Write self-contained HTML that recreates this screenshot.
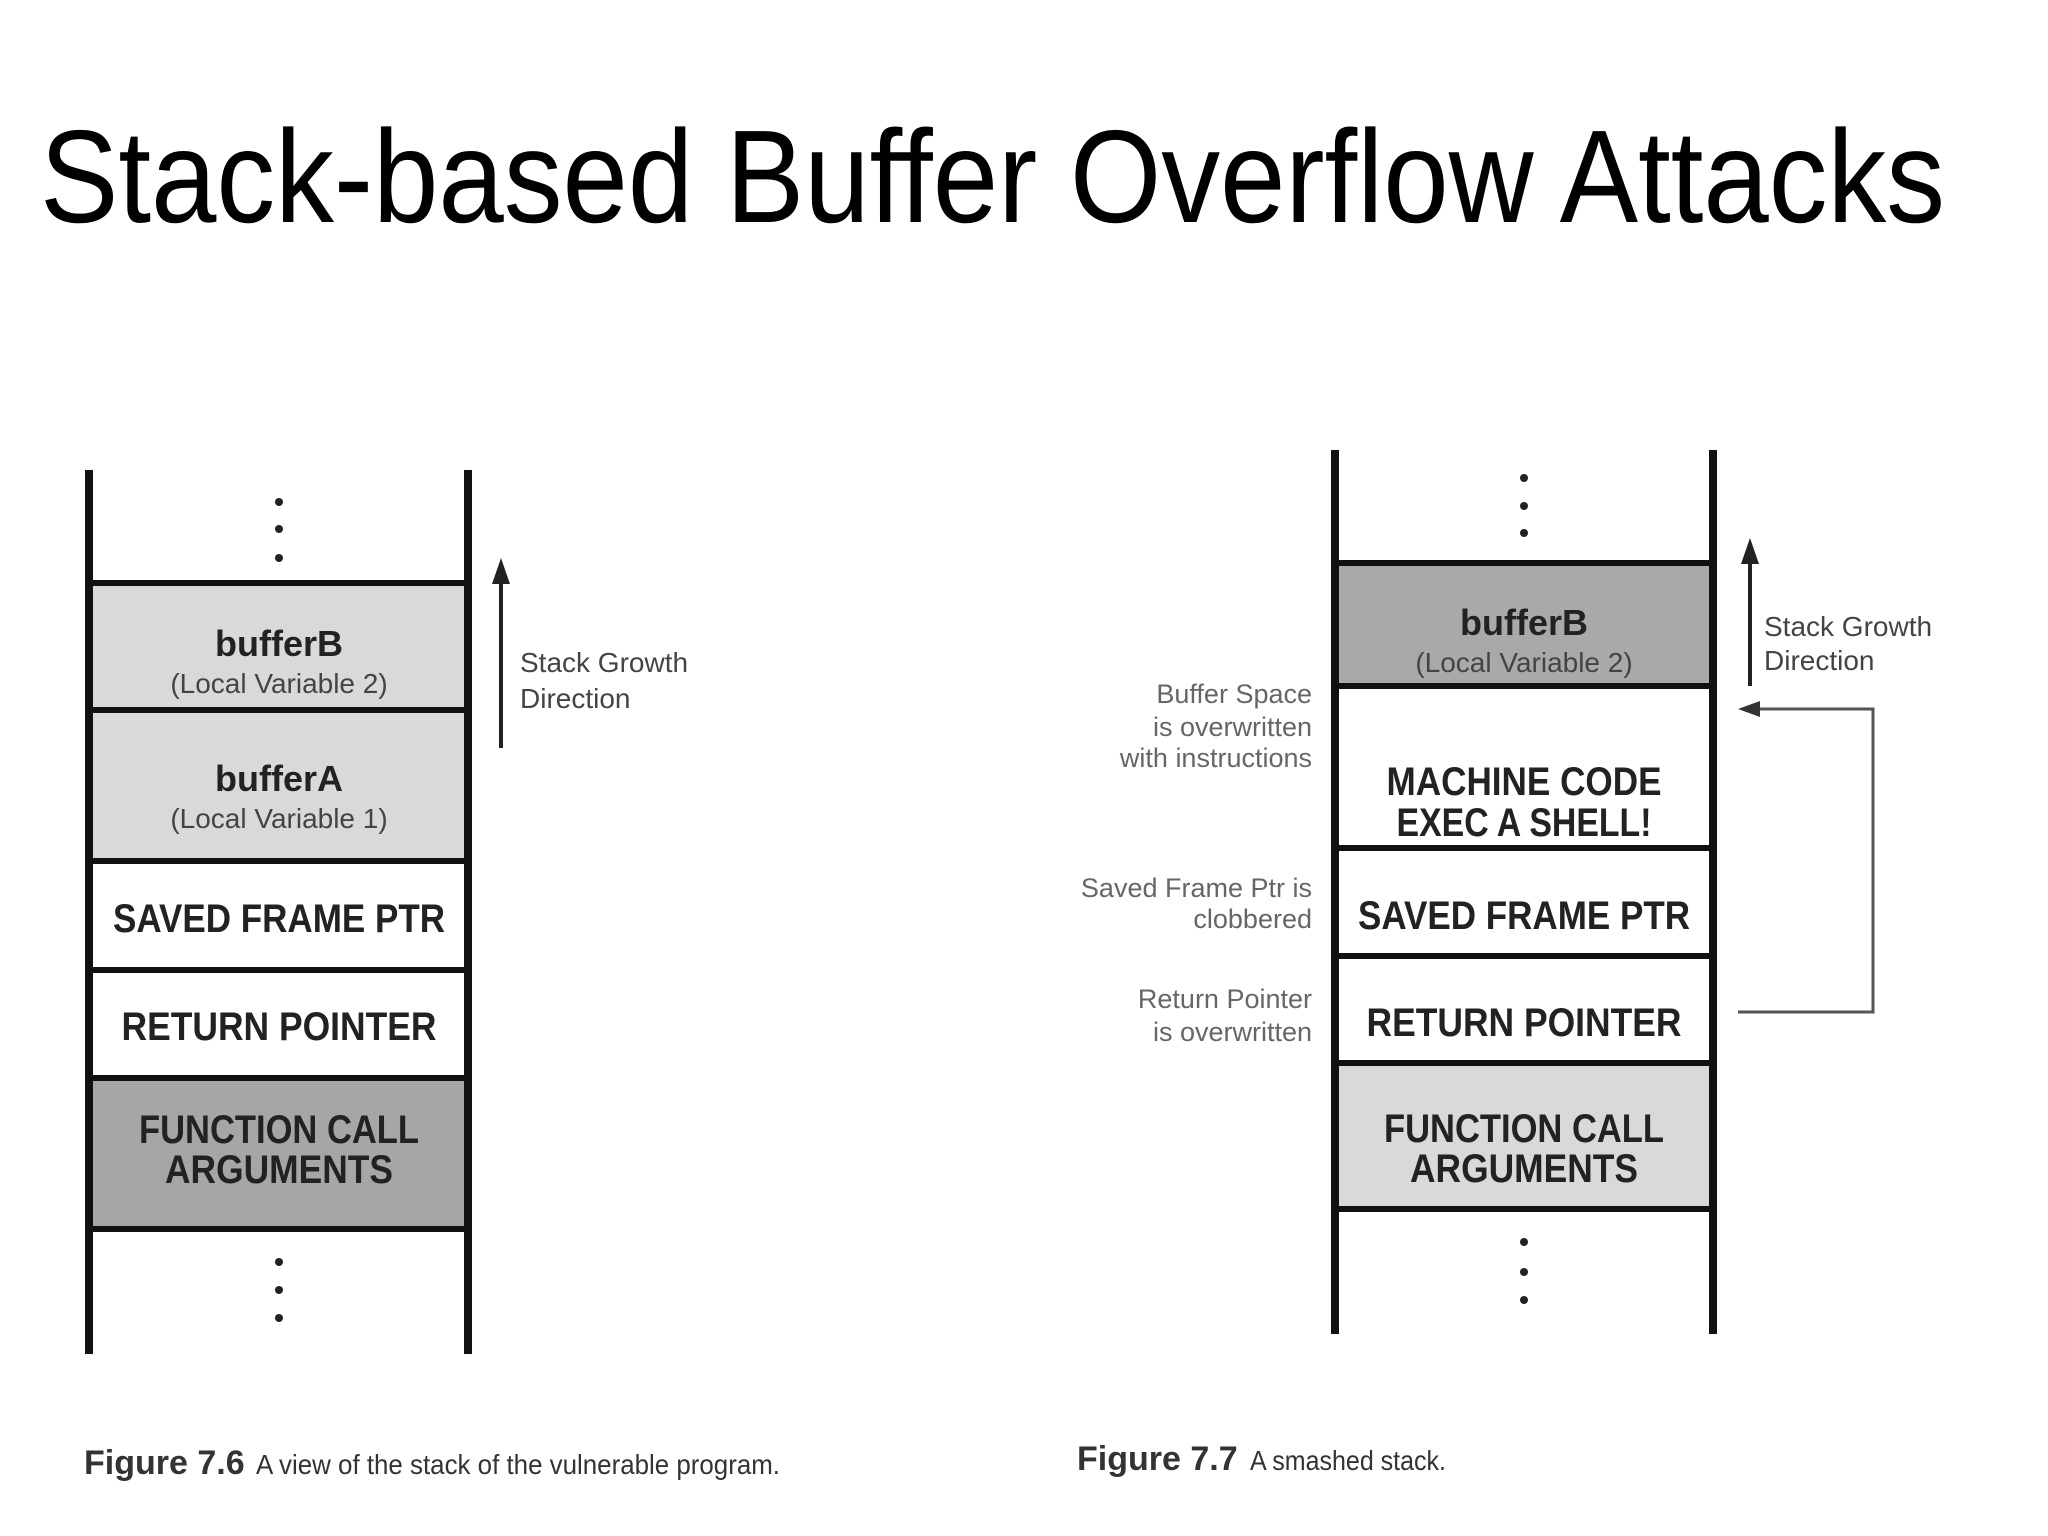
<!DOCTYPE html>
<html><head><meta charset="utf-8"><style>
html,body{margin:0;padding:0;background:#fff;}
svg{display:block;}
text{font-family:"Liberation Sans",sans-serif;}
</style></head><body>
<svg width="2048" height="1536" viewBox="0 0 2048 1536" xmlns="http://www.w3.org/2000/svg">
<rect width="2048" height="1536" fill="#fff"/>
<text x="40" y="222" font-size="132" textLength="1905" lengthAdjust="spacingAndGlyphs" fill="#000">Stack-based Buffer Overflow Attacks</text>

<!-- LEFT FIGURE -->
<g>
<rect x="89" y="583" width="379" height="127" fill="#d9d9d9"/>
<rect x="89" y="710" width="379" height="151" fill="#d9d9d9"/>
<rect x="89" y="861" width="379" height="109" fill="#fff"/>
<rect x="89" y="970" width="379" height="108" fill="#fff"/>
<rect x="89" y="1078" width="379" height="151" fill="#a6a6a6"/>
<g stroke="#111" stroke-width="6">
<line x1="89" y1="583" x2="468" y2="583"/>
<line x1="89" y1="710" x2="468" y2="710"/>
<line x1="89" y1="861" x2="468" y2="861"/>
<line x1="89" y1="970" x2="468" y2="970"/>
<line x1="89" y1="1078" x2="468" y2="1078"/>
<line x1="89" y1="1229" x2="468" y2="1229"/>
</g>
<g stroke="#111" stroke-width="8">
<line x1="89" y1="470" x2="89" y2="1354"/>
<line x1="468" y1="470" x2="468" y2="1354"/>
</g>
<g fill="#222">
<circle cx="279" cy="502" r="4"/><circle cx="279" cy="529" r="4"/><circle cx="279" cy="558" r="4"/>
<circle cx="279" cy="1262" r="4"/><circle cx="279" cy="1290" r="4"/><circle cx="279" cy="1318" r="4"/>
</g>
<g fill="#222" text-anchor="middle">
<text x="279" y="656" font-size="36" font-weight="bold">bufferB</text>
<text x="279" y="693" font-size="28" fill="#444">(Local Variable 2)</text>
<text x="279" y="791" font-size="36" font-weight="bold">bufferA</text>
<text x="279" y="828" font-size="28" fill="#444">(Local Variable 1)</text>
<text x="279" y="932" font-size="40" font-weight="bold" textLength="332" lengthAdjust="spacingAndGlyphs">SAVED FRAME PTR</text>
<text x="279" y="1040" font-size="40" font-weight="bold" textLength="315" lengthAdjust="spacingAndGlyphs">RETURN POINTER</text>
<text x="279" y="1143" font-size="40" font-weight="bold" textLength="280" lengthAdjust="spacingAndGlyphs">FUNCTION CALL</text>
<text x="279" y="1183" font-size="40" font-weight="bold" textLength="228" lengthAdjust="spacingAndGlyphs">ARGUMENTS</text>
</g>
<line x1="501" y1="748" x2="501" y2="580" stroke="#222" stroke-width="4"/>
<polygon points="501,558 492,584 510,584" fill="#222"/>
<text x="520" y="672" font-size="28" fill="#444">Stack Growth</text>
<text x="520" y="708" font-size="28" fill="#444">Direction</text>
<text x="84" y="1474" font-size="34" font-weight="bold" fill="#333">Figure 7.6</text>
<text x="256" y="1474" font-size="28" fill="#333" textLength="524" lengthAdjust="spacingAndGlyphs">A view of the stack of the vulnerable program.</text>
</g>

<!-- RIGHT FIGURE -->
<g>
<rect x="1335" y="563" width="378" height="123" fill="#a9a9a9"/>
<rect x="1335" y="686" width="378" height="162" fill="#fff"/>
<rect x="1335" y="848" width="378" height="108" fill="#fff"/>
<rect x="1335" y="956" width="378" height="107" fill="#fff"/>
<rect x="1335" y="1063" width="378" height="146" fill="#d9d9d9"/>
<g stroke="#111" stroke-width="6">
<line x1="1335" y1="563" x2="1713" y2="563"/>
<line x1="1335" y1="686" x2="1713" y2="686"/>
<line x1="1335" y1="848" x2="1713" y2="848"/>
<line x1="1335" y1="956" x2="1713" y2="956"/>
<line x1="1335" y1="1063" x2="1713" y2="1063"/>
<line x1="1335" y1="1209" x2="1713" y2="1209"/>
</g>
<g stroke="#111" stroke-width="8">
<line x1="1335" y1="450" x2="1335" y2="1334"/>
<line x1="1713" y1="450" x2="1713" y2="1334"/>
</g>
<g fill="#222">
<circle cx="1524" cy="478" r="4"/><circle cx="1524" cy="506" r="4"/><circle cx="1524" cy="533" r="4"/>
<circle cx="1524" cy="1242" r="4"/><circle cx="1524" cy="1272" r="4"/><circle cx="1524" cy="1300" r="4"/>
</g>
<g fill="#222" text-anchor="middle">
<text x="1524" y="635" font-size="36" font-weight="bold">bufferB</text>
<text x="1524" y="672" font-size="28" fill="#444">(Local Variable 2)</text>
<text x="1524" y="795" font-size="40" font-weight="bold" textLength="275" lengthAdjust="spacingAndGlyphs">MACHINE CODE</text>
<text x="1524" y="836" font-size="40" font-weight="bold" textLength="255" lengthAdjust="spacingAndGlyphs">EXEC A SHELL!</text>
<text x="1524" y="929" font-size="40" font-weight="bold" textLength="332" lengthAdjust="spacingAndGlyphs">SAVED FRAME PTR</text>
<text x="1524" y="1036" font-size="40" font-weight="bold" textLength="315" lengthAdjust="spacingAndGlyphs">RETURN POINTER</text>
<text x="1524" y="1142" font-size="40" font-weight="bold" textLength="280" lengthAdjust="spacingAndGlyphs">FUNCTION CALL</text>
<text x="1524" y="1182" font-size="40" font-weight="bold" textLength="228" lengthAdjust="spacingAndGlyphs">ARGUMENTS</text>
</g>
<line x1="1750" y1="686" x2="1750" y2="560" stroke="#222" stroke-width="4"/>
<polygon points="1750,538 1741,564 1759,564" fill="#222"/>
<text x="1764" y="636" font-size="28" fill="#444">Stack Growth</text>
<text x="1764" y="670" font-size="28" fill="#444">Direction</text>
<polyline points="1760,709 1873,709 1873,1012 1738,1012" fill="none" stroke="#555" stroke-width="3"/>
<polygon points="1738,709 1760,701 1760,717" fill="#333"/>
<g fill="#666" font-size="27" text-anchor="end">
<text x="1312" y="703">Buffer Space</text>
<text x="1312" y="736">is overwritten</text>
<text x="1312" y="767">with instructions</text>
<text x="1312" y="897">Saved Frame Ptr is</text>
<text x="1312" y="928">clobbered</text>
<text x="1312" y="1008">Return Pointer</text>
<text x="1312" y="1041">is overwritten</text>
</g>
<text x="1077" y="1470" font-size="34" font-weight="bold" fill="#333">Figure 7.7</text>
<text x="1250" y="1470" font-size="28" fill="#333" textLength="196" lengthAdjust="spacingAndGlyphs">A smashed stack.</text>
</g>
</svg>
</body></html>
